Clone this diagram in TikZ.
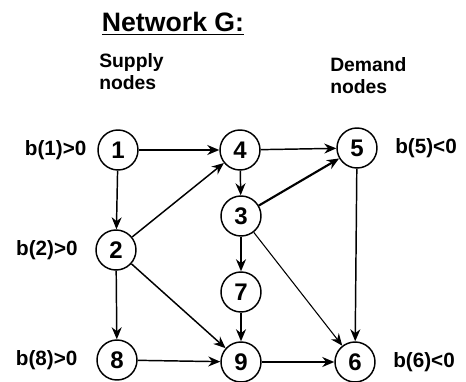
\documentclass[tikz,border=0pt]{standalone}
\usepackage{fontspec}
\setmainfont{Liberation Sans}
\usetikzlibrary{
  arrows.meta,
  positioning,
}
\tikzstyle{vertex} = [
  circle,
  draw,
  line width=1.1pt,
  minimum size=30pt,
  inner sep=0pt,
  font=\bfseries\fontsize{18}{18}\selectfont,
]
\tikzstyle{arc} = [
  -{Stealth[length=9pt,width=7.5pt]},
  line width=1.1pt,
]
\tikzstyle{balance} = [
  inner sep=0pt,
  font=\bfseries\fontsize{15.5}{15.5}\selectfont,
]
\tikzstyle{heading} = [
  align=left,
  anchor=north west,
  inner sep=0pt,
  font=\bfseries\fontsize{14.5}{16.5}\selectfont,
]

\begin{document}
\begin{tikzpicture}[x=0.75pt, y=-0.75pt]
      \useasboundingbox (0,0) rectangle (466,381);
      \node [inner sep=0pt, anchor=base, font=\bfseries\fontsize{20}{20}\selectfont] (title) at (173,32) {\underline{Network G:}};
      \node [heading] (supply) at (99,53) {Supply\\nodes};
      \node [heading] (demand) at (330,57) {Demand\\nodes};
      % the network
      \node [vertex] (n1) at (118,150) {1};
      \node [vertex] (n4) at (240,150) {4};
      \node [vertex] (n5) at (357,148) {5};
      \node [vertex] (n3) at (241,216) {3};
      \node [vertex] (n2) at (116,250) {2};
      \node [vertex] (n7) at (241,292) {7};
      \node [vertex] (n8) at (117,360) {8};
      \node [vertex] (n9) at (241,362) {9};
      \node [vertex] (n6) at (355,362) {6};
      % supplies and demands
      \node [balance, left=8pt of n1] (b1) {b(1)>0};
      \node [balance, left=13pt of n2] (b2) {b(2)>0};
      \node [balance, left=14pt of n8] (b8) {b(8)>0};
      \node [balance, right=13pt of n5] (b5) {b(5)<0};
      \node [balance, right=13pt of n6] (b6) {b(6)<0};
      \path [arc] (n1) edge (n4)
                  (n1) edge (n2)
                  (n4) edge (n5)
                  (n4) edge (n3)
                  (n2) edge (n4)
                  (n2) edge (n8)
                  (n2) edge (n9)
                  (n3) edge [line width=1.6pt] (n5)
                  (n3) edge (n7)
                  (n3) edge [line width=0.8pt] (n6)
                  (n5) edge (n6)
                  (n7) edge (n9)
                  (n8) edge (n9)
                  (n9) edge (n6);
    \end{tikzpicture}
\end{document}
